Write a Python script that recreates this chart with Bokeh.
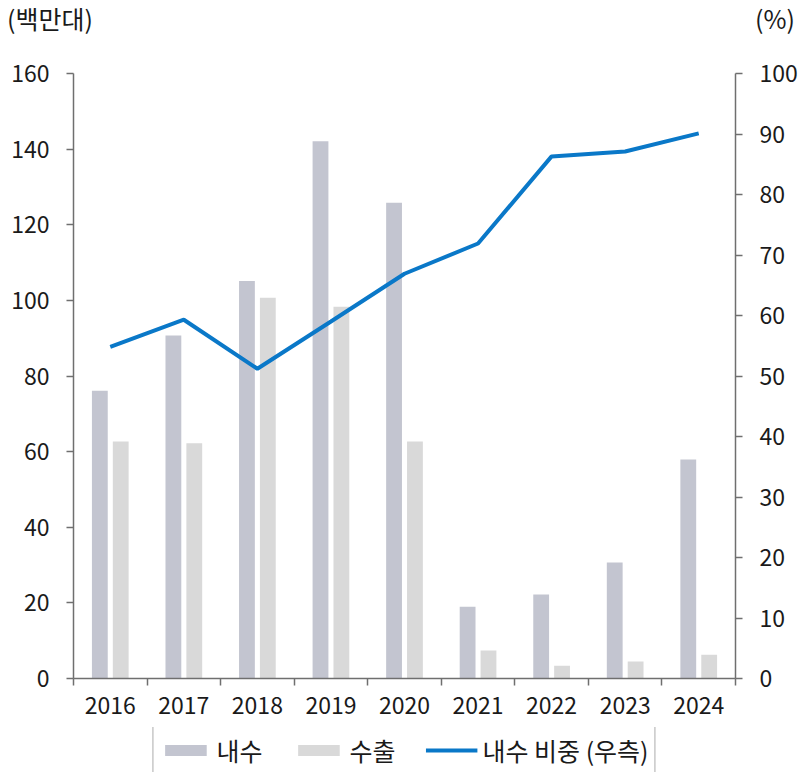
from bokeh.plotting import figure
from bokeh.models import (LinearAxis, Range1d, FixedTicker, Legend, LegendItem,
                          ColumnDataSource, Div)
from bokeh.layouts import column
from bokeh.transform import dodge
from bokeh.embed import file_html
from bokeh.resources import INLINE

years = [2016, 2017, 2018, 2019, 2020, 2021, 2022, 2023, 2024]
domestic = [76.1, 90.7, 105.1, 142.1, 125.8, 19.0, 22.2, 30.7, 57.9]
export = [62.7, 62.2, 100.7, 98.3, 62.7, 7.4, 3.4, 4.5, 6.3]
share = [54.8, 59.3, 51.2, 59.0, 66.9, 71.9, 86.3, 87.1, 90.1]
left_ticks = [0, 20, 40, 60, 80, 100, 120, 140, 160]
right_ticks = [0, 10, 20, 30, 40, 50, 60, 70, 80, 90, 100]
unit_labels = ["(백만대)", "(%)"]
series_names = ["내수", "수출", "내수 비중 (우측)"]

FONT = "Noto Sans CJK KR"
FS = "23px"
FS_BIG = "25px"
AX = "#6f6f6f"
TXT = "#1a1a1a"
C_DOM = "#c3c5d0"
C_EXP = "#d9d9d9"
C_LINE = "#0a78c8"
HEAD_H = 46

# ---- header with the unit labels ----
header = Div(
    text=(f'<div style="position:relative;width:801px;height:{HEAD_H}px;'
          f'font-family:\'{FONT}\';font-size:{FS_BIG};color:{TXT};line-height:1.2;">'
          f'<span style="position:absolute;left:7px;top:3px;">{unit_labels[0]}</span>'
          f'<span style="position:absolute;right:6px;top:3px;">{unit_labels[1]}</span>'
          '</div>'),
    width=801, height=HEAD_H, margin=(0, 0, 0, 0))

# ---- main chart ----
src = ColumnDataSource(dict(year=years, dom=domestic, exp=export, share=share))

p = figure(frame_width=662, frame_height=605, output_backend="svg", toolbar_location=None,
           x_range=Range1d(years[0] - 0.5, years[-1] + 0.5), y_range=Range1d(0, 160),
           min_border_left=73, min_border_right=66, min_border_top=73 - HEAD_H,
           min_border_bottom=49, margin=(0, 0, 0, 0))
p.extra_y_ranges = {"pct": Range1d(0, 100)}
p.grid.visible = False
p.outline_line_color = None

p.vbar(x=dodge("year", -0.142, range=p.x_range), top="dom", width=0.215, source=src,
       fill_color=C_DOM, line_color=None)
p.vbar(x=dodge("year", 0.142, range=p.x_range), top="exp", width=0.215, source=src,
       fill_color=C_EXP, line_color=None)
p.line(x="year", y="share", source=src, y_range_name="pct", line_color=C_LINE, line_width=4)

# x axis
xa = p.xaxis[0]
xa.ticker = FixedTicker(ticks=years, minor_ticks=[y - 0.5 for y in years] + [years[-1] + 0.5])
xa.major_tick_line_color = None
xa.major_tick_out = 0
xa.minor_tick_in = 0
xa.minor_tick_out = 7
xa.minor_tick_line_color = AX
xa.minor_tick_line_width = 1.5
xa.axis_line_color = AX
xa.axis_line_width = 1.5
xa.major_label_standoff = 11
xa.major_label_text_font = FONT
xa.major_label_text_font_size = FS
xa.major_label_text_color = TXT

# left axis
ya = p.yaxis[0]
ya.ticker = FixedTicker(ticks=left_ticks)
ya.minor_tick_line_color = None
ya.major_tick_in = 0
ya.major_tick_out = 7
ya.major_tick_line_color = AX
ya.major_tick_line_width = 1.5
ya.axis_line_color = AX
ya.axis_line_width = 1.5
ya.major_label_standoff = 17
ya.major_label_text_font = FONT
ya.major_label_text_font_size = FS
ya.major_label_text_color = TXT

# right axis
ra = LinearAxis(y_range_name="pct", ticker=FixedTicker(ticks=right_ticks))
ra.minor_tick_line_color = None
ra.major_tick_in = 0
ra.major_tick_out = 7
ra.major_tick_line_color = AX
ra.major_tick_line_width = 1.5
ra.axis_line_color = AX
ra.axis_line_width = 1.5
ra.major_label_standoff = 17
ra.major_label_text_font = FONT
ra.major_label_text_font_size = FS
ra.major_label_text_color = TXT
p.add_layout(ra, "right")

# ---- footer with the legend (proxy glyphs lie entirely outside the footer's ranges) ----
f = figure(frame_width=662, frame_height=46, output_backend="svg", toolbar_location=None,
           x_axis_type=None, y_axis_type=None, min_border=0,
           min_border_left=73, min_border_right=66, margin=(0, 0, 0, 0),
           x_range=Range1d(5000, 5001), y_range=Range1d(5000, 5001))
f.grid.visible = False
f.outline_line_color = None
g1 = f.vbar(x=years, top=domestic, width=0.2, fill_color=C_DOM, line_color=None)
g2 = f.vbar(x=years, top=export, width=0.2, fill_color=C_EXP, line_color=None)
g3 = f.line(x=years, y=share, line_color=C_LINE, line_width=4)

legend = Legend(items=[LegendItem(label=series_names[0], renderers=[g1]),
                       LegendItem(label=series_names[1], renderers=[g2]),
                       LegendItem(label=series_names[2], renderers=[g3])],
                orientation="horizontal", location="center",
                label_text_font=FONT, label_text_font_size=FS_BIG, label_text_color=TXT,
                glyph_width=52, glyph_height=14, label_standoff=5, spacing=30,
                padding=6, margin=0,
                border_line_color="#595959", border_line_width=1.5,
                background_fill_color="white")
f.add_layout(legend, "center")

layout = column(header, p, f, spacing=0)
open("out.html", "w").write(file_html(layout, INLINE))
